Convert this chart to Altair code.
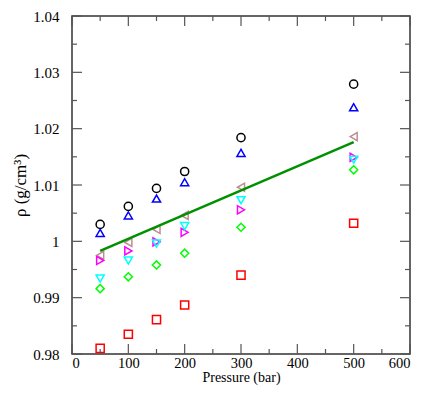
import altair as alt
import pandas as pd

# ---- data ----
pressure = [50, 100, 150, 200, 300, 500]
s_circle = [1.0030, 1.0062, 1.0094, 1.0124, 1.0184, 1.0279]
s_tri_up = [1.0015, 1.0046, 1.0076, 1.0105, 1.0157, 1.0238]
s_tri_left = [0.9975, 0.9998, 1.0021, 1.0046, 1.0096, 1.0186]
s_tri_right = [0.9966, 0.9983, 0.9999, 1.0016, 1.0056, 1.0149]
s_tri_down = [0.9934, 0.9966, 0.9996, 1.0027, 1.0073, 1.0145]
s_diamond = [0.9916, 0.9937, 0.9958, 0.9979, 1.0025, 1.0127]
s_square = [0.9810, 0.9835, 0.9861, 0.9887, 0.9940, 1.0032]

fit_x = [50, 500]
fit_y = [0.9983, 1.0176]

series_names = ["circle", "triangle-up", "triangle-left", "triangle-right",
                "triangle-down", "diamond", "square"]
series_values = [s_circle, s_tri_up, s_tri_left, s_tri_right,
                 s_tri_down, s_diamond, s_square]
series_colors = ["#000000", "#0000ff", "#bc8f8f", "#ff00ff",
                 "#00ffff", "#00ff00", "#ff0000"]

x_major = [0, 100, 200, 300, 400, 500, 600]
x_minor = [50, 150, 250, 350, 450, 550]
y_major = [0.98, 0.99, 1.00, 1.01, 1.02, 1.03, 1.04]
y_minor = [0.985, 0.995, 1.005, 1.015, 1.025, 1.035]

W, H = 338, 338
FONT = "Liberation Serif"
TICK_COLOR = "#555555"

rows = []
for name, vals in zip(series_names, series_values):
    for p, v in zip(pressure, vals):
        rows.append({"P": p, "rho": v, "s": name})
df = pd.DataFrame(rows)
fit_df = pd.DataFrame({"P": fit_x, "rho": fit_y})

xscale = alt.Scale(domain=[0, 600], nice=False, zero=False)
yscale = alt.Scale(domain=[0.98, 1.04], nice=False, zero=False)

xaxis = alt.Axis(values=x_major, format="d", tickSize=0, domain=False, grid=False,
                 labelFont=FONT, labelFontSize=14.5, labelColor="black", labelPadding=2,
                 title="Pressure (bar)", titleFont=FONT, titleFontSize=14,
                 titleFontWeight="normal", titleColor="black", titlePadding=1)
yaxis = alt.Axis(values=y_major, format=".3~g", tickSize=0, domain=False, grid=False,
                 labelFont=FONT, labelFontSize=15, labelColor="black", labelPadding=13,
                 title="ρ (g/cm³)", titleFont=FONT, titleFontSize=17,
                 titleFontWeight="normal", titleColor="black", titlePadding=3)

points = alt.Chart(df).mark_point(filled=False, size=66, strokeWidth=1.5, opacity=1).encode(
    x=alt.X("P:Q", scale=xscale, axis=xaxis),
    y=alt.Y("rho:Q", scale=yscale, axis=yaxis),
    shape=alt.Shape("s:N", scale=alt.Scale(domain=series_names, range=series_names), legend=None),
    color=alt.Color("s:N", scale=alt.Scale(domain=series_names, range=series_colors), legend=None),
)

fit = alt.Chart(fit_df).mark_line(color="#009000", strokeWidth=2.5).encode(
    x=alt.X("P:Q", scale=xscale), y=alt.Y("rho:Q", scale=yscale)
)

def xticks(vals, length):
    d = pd.DataFrame({"t": vals})
    bottom = alt.Chart(d).mark_rule(color=TICK_COLOR, strokeWidth=1.2).encode(
        x=alt.X("t:Q", scale=xscale), y=alt.value(H), y2=alt.value(H - length))
    top = alt.Chart(d).mark_rule(color=TICK_COLOR, strokeWidth=1.2).encode(
        x=alt.X("t:Q", scale=xscale), y=alt.value(0), y2=alt.value(length))
    return [bottom, top]

def yticks(vals, length):
    d = pd.DataFrame({"t": vals})
    left = alt.Chart(d).mark_rule(color=TICK_COLOR, strokeWidth=1.2).encode(
        y=alt.Y("t:Q", scale=yscale), x=alt.value(0), x2=alt.value(length))
    right = alt.Chart(d).mark_rule(color=TICK_COLOR, strokeWidth=1.2).encode(
        y=alt.Y("t:Q", scale=yscale), x=alt.value(W), x2=alt.value(W - length))
    return [left, right]

tick_layers = xticks(x_major, 10) + xticks(x_minor, 5) + yticks(y_major, 10) + yticks(y_minor, 5)

chart = alt.layer(points, *tick_layers, fit).properties(
    width=W, height=H,
    autosize=alt.AutoSizeParams(type="none"),
    padding={"left": 64, "top": 8, "right": 18, "bottom": 33},
).configure_view(stroke="#333333", strokeWidth=1.5)

chart.save("out.html", embed_options={"renderer": "svg", "actions": False})
